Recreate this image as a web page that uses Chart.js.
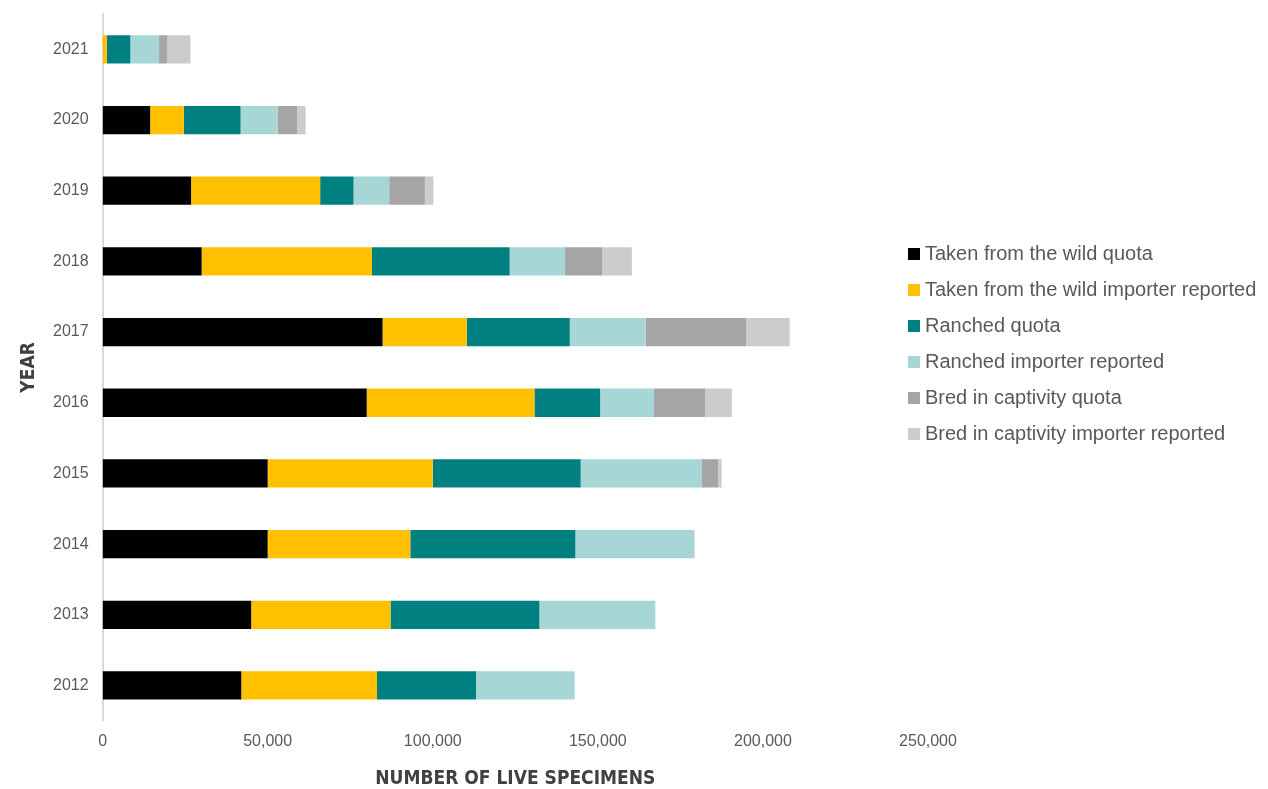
<!DOCTYPE html>
<html>
<head>
<meta charset="utf-8">
<title>Live specimens by source</title>
<script src="https://cdn.jsdelivr.net/npm/chart.js@4.4.1/dist/chart.umd.min.js"></script>
<style>
    html, body { margin: 0; padding: 0; background: #ffffff; }
    #wrap { position: relative; width: 1268px; height: 789px; }
    #legend {
        position: absolute;
        left: 908px;
        top: 235px;
        font-family: 'Liberation Sans', Arial, sans-serif;
        font-size: 20px;
        color: #595959;
    }
    #legend .item { display: flex; align-items: center; height: 36px; white-space: nowrap; }
    #legend .box { width: 12px; height: 12px; margin-right: 5px; margin-top: 1px; }
</style>
</head>
<body>
<div id="wrap">
    <canvas id="specimenChart" width="1268" height="789"></canvas>
    <div id="legend"></div>
</div>
<script>
'use strict';

// Years, newest at the top
const years = ['2021', '2020', '2019', '2018', '2017', '2016', '2015', '2014', '2013', '2012'];

// Number of live specimens per source, same order as years
const wildQuota       = [0,    14400, 26800, 30000, 84800, 80000, 50000, 50000, 45000, 42000];
const wildImporter    = [1300, 10200, 39100, 51600, 25500, 50800, 50000, 43200, 42200, 41100];
const ranchedQuota    = [7100, 17200, 10100, 41700, 31200, 19900, 44800, 50000, 45100, 30000];
const ranchedImporter = [8700, 11200, 10800, 16700, 23000, 16300, 36600, 36100, 35100, 29900];
const bredQuota       = [2500, 5900,  10800, 11400, 30500, 15500, 5000,  0,     0,     0];
const bredImporter    = [7000, 2600,  2600,  8900,  13100, 8100,  1100,  0,     0,     0];

const seriesNames = [
    'Taken from the wild quota',
    'Taken from the wild importer reported',
    'Ranched quota',
    'Ranched importer reported',
    'Bred in captivity quota',
    'Bred in captivity importer reported'
];
const seriesColors = ['#000000', '#FFC000', '#008080', '#A7D6D6', '#A5A5A5', '#CCCCCC'];

const xTicks = [0, 50000, 100000, 150000, 200000, 250000];

const labelFont = "'Liberation Sans', Arial, sans-serif";
const titleFont = "'DejaVu Sans Condensed', 'Liberation Sans', sans-serif";

function buildDatasets() {
    const values = [wildQuota, wildImporter, ranchedQuota, ranchedImporter, bredQuota, bredImporter];
    return values.map((data, i) => ({
        label: seriesNames[i],
        data: data,
        backgroundColor: seriesColors[i],
        borderWidth: 0,
        categoryPercentage: 1.0,
        barPercentage: 0.4
    }));
}

// Chart initialization
function chartInit() {
    const canvas = document.getElementById('specimenChart');
    const ctx = canvas.getContext('2d');
    return new Chart(ctx, {
        type: 'bar',
        data: {
            labels: years,
            datasets: buildDatasets()
        },
        options: {
            indexAxis: 'y',
            responsive: false,
            animation: false,
            layout: {
                padding: { top: 14, right: 340, bottom: 0, left: 12 }
            },
            plugins: {
                legend: { display: false },
                tooltip: { enabled: false }
            },
            scales: {
                x: {
                    stacked: true,
                    min: 0,
                    max: 250000,
                    afterBuildTicks: axis => {
                        axis.ticks = xTicks.map(v => ({ value: v }));
                    },
                    grid: { display: false, drawTicks: false },
                    border: { display: false },
                    ticks: {
                        padding: 11,
                        color: '#595959',
                        font: { family: labelFont, size: 16 },
                        callback: v => Number(v).toLocaleString('en-US')
                    },
                    title: {
                        display: true,
                        text: 'NUMBER OF LIVE SPECIMENS',
                        color: '#404040',
                        font: { family: titleFont, size: 19, weight: 'bold', lineHeight: 1.0 },
                        padding: { top: 8, bottom: 0 }
                    }
                },
                y: {
                    stacked: true,
                    // year labels sit well inside the bar slots, so no extra room above/below
                    afterFit: axis => {
                        axis.paddingTop = 0;
                        axis.paddingBottom = 0;
                    },
                    grid: { display: false, drawTicks: false },
                    border: { display: true, color: '#D9D9D9', width: 2 },
                    ticks: {
                        padding: 14,
                        color: '#595959',
                        font: { family: labelFont, size: 16 }
                    },
                    title: {
                        display: true,
                        text: 'YEAR',
                        color: '#404040',
                        font: { family: titleFont, size: 19, weight: 'bold', lineHeight: 1.0 },
                        padding: { top: 8, bottom: 0 }
                    }
                }
            }
        }
    });
}

// Legend built as HTML from the chart's datasets
function legendInit(chart) {
    const legend = document.getElementById('legend');
    chart.data.datasets.forEach(ds => {
        const item = document.createElement('div');
        item.className = 'item';
        const box = document.createElement('span');
        box.className = 'box';
        box.style.background = ds.backgroundColor;
        const text = document.createElement('span');
        text.textContent = ds.label;
        item.appendChild(box);
        item.appendChild(text);
        legend.appendChild(item);
    });
}

const chart = chartInit();
legendInit(chart);
</script>
</body>
</html>
